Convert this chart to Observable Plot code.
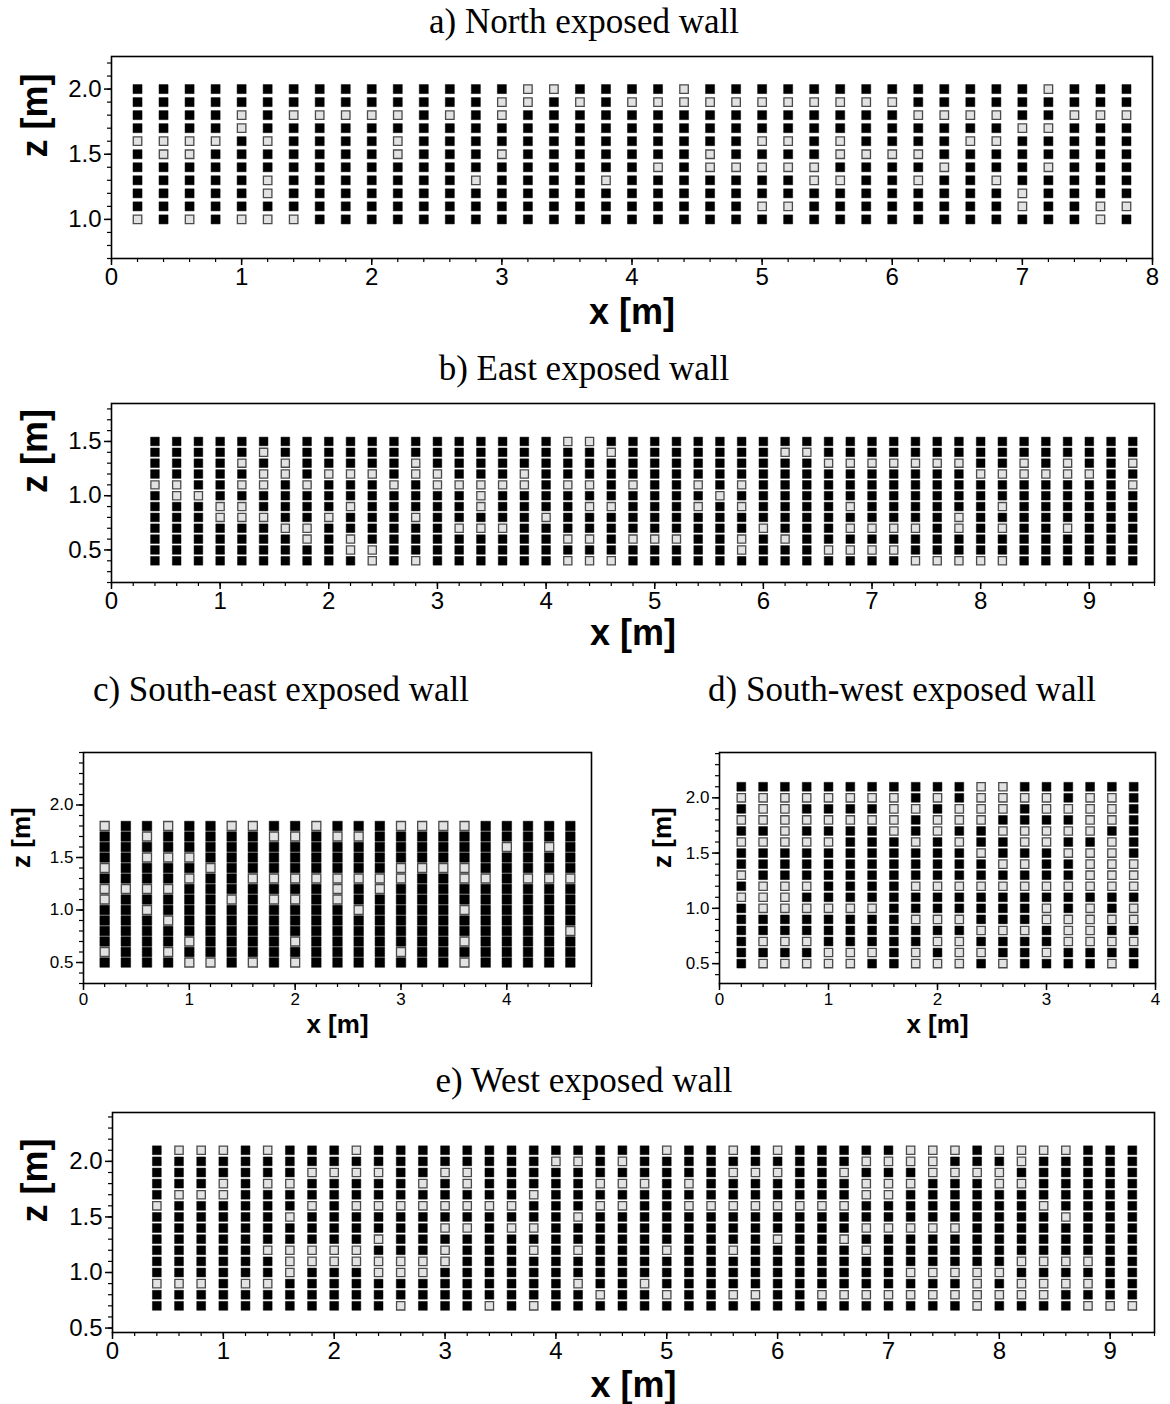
<!DOCTYPE html>
<html><head><meta charset="utf-8">
<script src="https://cdn.jsdelivr.net/npm/d3@7"></script>
<script src="https://cdn.jsdelivr.net/npm/@observablehq/plot@0.6"></script>
<style>
html,body{margin:0;padding:0;background:#fff;}
#root{position:relative;width:1170px;height:1404px;overflow:hidden;background:#fff;}
.title{position:absolute;font-family:"Liberation Serif","Times New Roman",serif;font-size:35px;color:#000;white-space:nowrap;transform:translate(-50%,-50%);line-height:1;}
.panel{position:absolute;}
</style></head><body><div id="root"></div>
<script>
// ---------- DATA ----------
const panelTitles = ["a) North exposed wall","b) East exposed wall","c) South-east exposed wall","d) South-west exposed wall","e) West exposed wall"];

// a) North
const northCols = [0.2,0.4,0.6,0.8,1.0,1.2,1.4,1.6,1.8,2.0,2.2,2.4,2.6,2.8,3.0,3.2,3.4,3.6,3.8,4.0,4.2,4.4,4.6,4.8,5.0,5.2,5.4,5.6,5.8,6.0,6.2,6.4,6.6,6.8,7.0,7.2,7.4,7.6,7.8];
const northRows = [1.0,1.1,1.2,1.3,1.4,1.5,1.6,1.7,1.8,1.9,2.0];
const northGrey = [
  [2.0,[3.2,3.4,4.4,7.2]],
  [1.9,[3.0,3.2,3.6,4.0,4.2,4.4,4.6,4.8,5.0,5.2,5.4,5.6,5.8,6.0]],
  [1.8,[1.0,1.4,1.6,1.8,2.0,2.2,2.6,3.0,6.2,6.4,6.6,6.8,7.4,7.6,7.8]],
  [1.7,[1.0,7.0,7.2]],
  [1.6,[0.2,0.4,0.6,0.8,1.2,2.2,5.0,5.2,5.6,6.6,6.8]],
  [1.5,[0.4,0.6,2.2,3.0,4.6,5.6,5.8,6.0,6.2]],
  [1.4,[4.2,4.6,4.8,5.0,5.2,5.4,6.4,7.2]],
  [1.3,[1.2,2.8,3.8,5.4,5.6,6.2,6.8]],
  [1.2,[1.2,7.0]],
  [1.1,[5.0,5.2,7.0,7.6,7.8]],
  [1.0,[0.2,0.6,1.0,1.2,1.4,7.6]]
];

// b) East
const eastCols = [0.4,0.6,0.8,1.0,1.2,1.4,1.6,1.8,2.0,2.2,2.4,2.6,2.8,3.0,3.2,3.4,3.6,3.8,4.0,4.2,4.4,4.6,4.8,5.0,5.2,5.4,5.6,5.8,6.0,6.2,6.4,6.6,6.8,7.0,7.2,7.4,7.6,7.8,8.0,8.2,8.4,8.6,8.8,9.0,9.2,9.4];
const eastRows = [0.4,0.5,0.6,0.7,0.8,0.9,1.0,1.1,1.2,1.3,1.4,1.5];
const eastGrey = [
  [1.5,[4.2,4.4]],
  [1.4,[1.4,4.6,6.2,6.4]],
  [1.3,[1.2,1.6,2.8,6.6,6.8,7.0,7.2,7.4,7.6,7.8,8.4,8.8,9.4]],
  [1.2,[1.4,1.6,2.0,2.2,2.4,2.8,3.0,3.8,8.0,8.2,8.4,8.6,8.8,9.0]],
  [1.1,[0.4,0.6,1.2,1.4,1.8,2.6,3.0,3.2,3.4,3.6,3.8,4.2,4.4,4.8,5.4,5.8,9.4]],
  [1.0,[0.6,0.8,3.4,5.6]],
  [0.9,[1.0,1.2,2.2,3.4,4.4,4.6,5.4,5.8,6.8,8.2]],
  [0.8,[1.0,1.2,1.4,2.0,2.8,4.0,7.8]],
  [0.7,[1.6,1.8,3.2,3.4,3.6,6.0,6.8,7.0,7.2,7.4,7.8,8.2,8.8]],
  [0.6,[1.8,2.2,4.2,4.4,4.8,5.0,5.2,5.8,6.2]],
  [0.5,[2.2,2.4,5.8,6.6,6.8,7.0,7.2]],
  [0.4,[2.4,2.8,4.2,4.4,4.6,7.4,7.6,7.8,8.0,8.2]]
];

// c) South-east
const seCols = [0.2,0.4,0.6,0.8,1.0,1.2,1.4,1.6,1.8,2.0,2.2,2.4,2.6,2.8,3.0,3.2,3.4,3.6,3.8,4.0,4.2,4.4,4.6];
const seRows = [0.5,0.6,0.7,0.8,0.9,1.0,1.1,1.2,1.3,1.4,1.5,1.6,1.7,1.8];
const seGrey = [
  [1.8,[0.2,0.8,1.4,1.6,2.2,3.0,3.2,3.4,3.6]],
  [1.7,[0.6,1.8,2.0,2.4,2.6]],
  [1.6,[4.0,4.4]],
  [1.5,[0.6,0.8,1.0]],
  [1.4,[0.2,1.2,3.0,3.2,3.4,3.6]],
  [1.3,[1.0,1.6,1.8,2.0,2.2,2.4,2.6,2.8,3.0,3.6,3.8,4.2,4.4,4.6]],
  [1.2,[0.2,0.4,0.6,0.8,2.4,2.8]],
  [1.1,[0.2,1.4,1.8,2.0,2.4]],
  [1.0,[0.6,2.6,3.6]],
  [0.9,[0.8]],
  [0.8,[4.6]],
  [0.7,[1.0,2.0,3.6]],
  [0.6,[0.2,0.8,3.0]],
  [0.5,[1.0,1.2,1.6,2.0,3.6]]
];

// d) South-west
const swCols = [0.2,0.4,0.6,0.8,1.0,1.2,1.4,1.6,1.8,2.0,2.2,2.4,2.6,2.8,3.0,3.2,3.4,3.6,3.8];
const swRows = [0.5,0.6,0.7,0.8,0.9,1.0,1.1,1.2,1.3,1.4,1.5,1.6,1.7,1.8,1.9,2.0,2.1];
const swGrey = [
  [2.1,[2.4,2.6]],
  [2.0,[0.2,0.4,0.6,0.8,1.0,1.2,1.4,1.6,2.0,2.4,2.6,2.8,3.0,3.4,3.6]],
  [1.9,[0.4,0.6,1.6,1.8,2.2,2.4,2.6,3.0,3.2,3.4,3.6]],
  [1.8,[0.2,0.4,0.6,0.8,1.0,1.2,1.4,1.6,2.0,2.2,2.4,3.4,3.6]],
  [1.7,[0.6,1.6,2.0,2.6,2.8,3.0,3.2,3.4]],
  [1.6,[0.2,0.4,0.6,0.8,1.0,1.8,2.2,2.8,3.0,3.6]],
  [1.5,[2.4,3.2,3.4,3.6]],
  [1.4,[2.6,2.8,3.4,3.6,3.8]],
  [1.3,[0.2,3.4,3.6,3.8]],
  [1.2,[0.4,0.6,0.8,1.8,2.0,2.2,2.4,2.6,2.8,3.0,3.2,3.4,3.6,3.8]],
  [1.1,[0.2,0.4,0.6]],
  [1.0,[0.4,0.6,0.8,1.0,1.2,1.4,3.0,3.4,3.8]],
  [0.9,[1.8,2.0,2.2,3.0,3.2,3.4,3.6,3.8]],
  [0.8,[2.4,2.6,2.8,3.2,3.4]],
  [0.7,[0.4,0.6,0.8,2.0,2.2,3.2,3.4,3.6,3.8]],
  [0.6,[1.0,1.2,1.4,1.8,2.2,2.4,3.0]],
  [0.5,[0.4,0.6,0.8,1.0,1.2,1.8,2.0,2.2,2.6,3.6]]
];

// e) West
const westCols = [0.4,0.6,0.8,1.0,1.2,1.4,1.6,1.8,2.0,2.2,2.4,2.6,2.8,3.0,3.2,3.4,3.6,3.8,4.0,4.2,4.4,4.6,4.8,5.0,5.2,5.4,5.6,5.8,6.0,6.2,6.4,6.6,6.8,7.0,7.2,7.4,7.6,7.8,8.0,8.2,8.4,8.6,8.8,9.0,9.2];
const westRows = [0.7,0.8,0.9,1.0,1.1,1.2,1.3,1.4,1.5,1.6,1.7,1.8,1.9,2.0,2.1];
const westGrey = [
  [2.1,[0.6,0.8,1.0,1.4,2.2,5.0,5.6,6.0,7.2,7.4,7.6,8.0,8.2,8.4,8.6]],
  [2.0,[4.0,4.2,4.6,6.8,7.0,7.2,7.4,8.2]],
  [1.9,[1.8,2.0,2.2,2.4,3.0,3.2,5.6,5.8,6.0,6.6,7.4,7.6,7.8,8.0]],
  [1.8,[1.0,1.4,1.6,2.8,3.2,4.4,4.6,4.8,5.2,6.8,7.0,7.2,8.0,8.2]],
  [1.7,[0.6,0.8,1.0,3.8,6.8,7.0]],
  [1.6,[0.4,1.8,2.2,2.4,2.6,2.8,3.0,3.2,3.4,3.6,4.4,4.6,5.2,5.4,5.6,5.8,6.0,6.2,6.4,6.6,8.4]],
  [1.5,[1.6,4.2,8.6]],
  [1.4,[3.0,3.2,3.6,3.8,6.8,7.0,7.2,7.4,7.6]],
  [1.3,[2.4,6.0,6.6]],
  [1.2,[1.4,1.6,1.8,2.0,2.2,3.0,3.8,4.2,5.0,5.6,6.8]],
  [1.1,[1.6,1.8,2.0,2.2,2.4,2.6,2.8,3.0,8.2,8.4,8.6,8.8]],
  [1.0,[1.6,2.4,2.6,2.8,7.2,7.4,7.6,7.8,8.0]],
  [0.9,[0.4,0.6,0.8,1.2,1.4,4.2,4.8,7.8,8.2,8.4,8.6,8.8]],
  [0.8,[4.4,5.0,5.6,5.8,6.4,6.6,6.8,7.0,7.2,7.4,7.6,7.8,8.0,8.2,8.4]],
  [0.7,[2.6,3.4,3.8,7.8,8.8,9.0,9.2]]
];

// tick labels
const xTicksA = [0,1,2,3,4,5,6,7,8];
const yTicksA = [1.0,1.5,2.0];
const xTicksB = [0,1,2,3,4,5,6,7,8,9];
const yTicksB = [0.5,1.0,1.5];
const xTicksC = [0,1,2,3,4];
const yTicksC = [0.5,1.0,1.5,2.0];
const xTicksD = [0,1,2,3,4];
const yTicksD = [0.5,1.0,1.5,2.0];
const xTicksE = [0,1,2,3,4,5,6,7,8,9];
const yTicksE = [0.5,1.0,1.5,2.0];

// ---------- BUILD ----------
const key = v => Math.round(v * 10);
function buildCells(cols, rows, grey) {
  const g = new Map(grey.map(([z, xs]) => [key(z), new Set(xs.map(key))]));
  const out = [];
  for (const z of rows) for (const x of cols) {
    const s = g.get(key(z));
    out.push({x, z, grey: !!(s && s.has(key(x)))});
  }
  return out;
}
function minor(lo, hi, step) {
  const a = [];
  const n0 = Math.ceil(lo / step - 1e-9), n1 = Math.floor(hi / step + 1e-9);
  for (let i = n0; i <= n1; i++) a.push(+(i * step).toFixed(2));
  return a;
}

const panels = [
  {title: panelTitles[0], cols: northCols, rows: northRows, grey: northGrey,
   left: 0, top: 40, width: 1170, height: 300, mL: 111, mR: 18, mT: 16, mB: 82,
   xDomain: [0, 8], yDomain: [0.7, 2.25], xTicks: xTicksA, yTicks: yTicksA,
   r: 5.1, tickFont: 24, labelFont: 36, xLabelDy: 54, zLabelDx: -76, tx: 584, ty: 21},
  {title: panelTitles[1], cols: eastCols, rows: eastRows, grey: eastGrey,
   left: 0, top: 385, width: 1170, height: 265, mL: 111, mR: 16, mT: 18, mB: 68,
   xDomain: [0, 9.6], yDomain: [0.2, 1.85], xTicks: xTicksB, yTicks: yTicksB,
   r: 4.9, tickFont: 24, labelFont: 36, xLabelDy: 51, zLabelDx: -76, tx: 584, ty: 368},
  {title: panelTitles[2], cols: seCols, rows: seRows, grey: seGrey,
   left: 0, top: 740, width: 600, height: 300, mL: 83, mR: 9, mT: 12, mB: 57,
   xDomain: [0, 4.8], yDomain: [0.3, 2.5], xTicks: xTicksC, yTicks: yTicksC,
   r: 5.4, tickFont: 17, labelFont: 26, xLabelDy: 41, zLabelDx: -62, tx: 281, ty: 689},
  {title: panelTitles[3], cols: swCols, rows: swRows, grey: swGrey,
   left: 640, top: 740, width: 530, height: 300, mL: 79, mR: 15, mT: 12, mB: 57,
   xDomain: [0, 4], yDomain: [0.32, 2.41], xTicks: xTicksD, yTicks: yTicksD,
   r: 5.0, tickFont: 17, labelFont: 26, xLabelDy: 41, zLabelDx: -57, tx: 902, ty: 689},
  {title: panelTitles[4], cols: westCols, rows: westRows, grey: westGrey,
   left: 0, top: 1095, width: 1170, height: 309, mL: 112, mR: 16, mT: 17, mB: 72,
   xDomain: [0, 9.4], yDomain: [0.46, 2.44], xTicks: xTicksE, yTicks: yTicksE,
   r: 5.0, tickFont: 24, labelFont: 36, xLabelDy: 53, zLabelDx: -77, tx: 584, ty: 1080}
];

const root = document.getElementById("root");
const f1 = d3.format(".1f");

for (const p of panels) {
  const cells = buildCells(p.cols, p.rows, p.grey);
  const blacks = cells.filter(d => !d.grey);
  const greys = cells.filter(d => d.grey);
  const chart = Plot.plot({
    width: p.width, height: p.height,
    marginLeft: p.mL, marginRight: p.mR, marginTop: p.mT, marginBottom: p.mB,
    x: {domain: p.xDomain, label: null},
    y: {domain: p.yDomain, label: null},
    style: {fontFamily: "'Liberation Sans', Arial, sans-serif", fontSize: p.tickFont + "px", color: "#000", background: "#fff", overflow: "visible"},
    marks: [
      Plot.axisX({ticks: minor(p.xDomain[0], p.xDomain[1], 0.2), tickSize: 4, tickFormat: () => "", label: null, strokeWidth: 1.2}),
      Plot.axisY({ticks: minor(p.yDomain[0], p.yDomain[1], 0.1), tickSize: 4, tickFormat: () => "", label: null, strokeWidth: 1.2}),
      Plot.axisX({ticks: p.xTicks, tickSize: 7, tickPadding: 2, tickFormat: d3.format("d"), label: null, strokeWidth: 1.5}),
      Plot.axisY({ticks: p.yTicks, tickSize: 7, tickPadding: 3, tickFormat: f1, label: null, strokeWidth: 1.5}),
      Plot.dot(blacks, {x: "x", y: "z", symbol: "square", r: p.r, fill: "#000", stroke: "#000", strokeWidth: 0.5}),
      Plot.dot(greys, {x: "x", y: "z", symbol: "square", r: p.r * 0.94, fill: "#e2e2e2", stroke: "#4a4a4a", strokeWidth: 1.3}),
      Plot.frame({stroke: "#000", strokeWidth: 1.6}),
      Plot.text(["x [m]"], {text: d => d, frameAnchor: "bottom", dy: p.xLabelDy, fontSize: p.labelFont, fontWeight: "bold", lineAnchor: "middle"}),
      Plot.text(["z [m]"], {text: d => d, frameAnchor: "left", dx: p.zLabelDx, rotate: -90, fontSize: p.labelFont, fontWeight: "bold", lineAnchor: "middle"})
    ]
  });
  const wrap = document.createElement("div");
  wrap.className = "panel";
  wrap.style.left = p.left + "px";
  wrap.style.top = p.top + "px";
  wrap.appendChild(chart);
  root.appendChild(wrap);

  const t = document.createElement("div");
  t.className = "title";
  t.style.left = p.tx + "px";
  t.style.top = p.ty + "px";
  t.textContent = p.title;
  root.appendChild(t);
}
</script></body></html>
